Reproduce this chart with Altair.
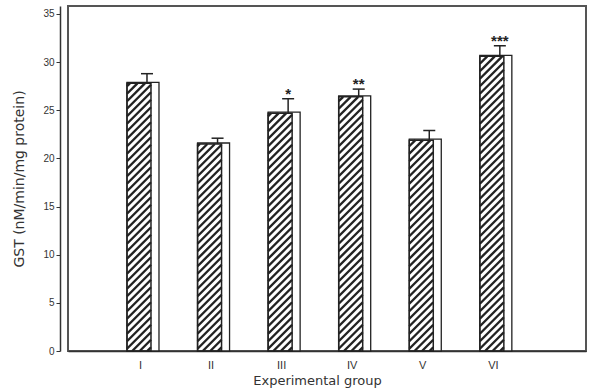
import altair as alt
import pandas as pd
import numpy as np

groups = ["I", "II", "III", "IV", "V", "VI"]
gst = [27.8, 21.5, 24.7, 26.4, 21.9, 30.6]
sem = [1.0, 0.6, 1.5, 0.8, 1.0, 1.1]
stars = ["", "", "*", "**", "", "***"]
y_ticks = [0, 5, 10, 15, 20, 25, 30, 35]

# layout / style
W, H = 518, 345
X_DOM = [-0.02, 7.32]
Y_DOM = [0, 35.83]
FRONT_L, FRONT_R, SIDE_R = -13, 11, 19   # px offsets of bar faces around the label position
HATCH_STEP = 7.5

pxx = W / (X_DOM[1] - X_DOM[0])
pxy = H / (Y_DOM[1] - Y_DOM[0])

idx = list(range(1, len(groups) + 1))
bars = pd.DataFrame({"g": idx, "name": groups, "v": gst, "e": sem,
                     "top": [a + b for a, b in zip(gst, sem)], "star": stars})

# hatch segments derived from bar values
rows = []
fw = FRONT_R - FRONT_L
for g, v in zip(idx, gst):
    hp = v * pxy
    for d in np.arange(-fw + HATCH_STEP / 2, hp, HATCH_STEP):
        u0 = max(0.0, -d)
        u1 = min(fw, hp - d)
        if u1 <= u0:
            continue
        rows.append({
            "x": g + (FRONT_L + u0) / pxx, "y": (u0 + d) / pxy,
            "x2": g + (FRONT_L + u1) / pxx, "y2": (u1 + d) / pxy,
        })
hatch = pd.DataFrame(rows)

xs = alt.Scale(domain=X_DOM, nice=False, zero=False)
ys = alt.Scale(domain=Y_DOM, nice=False, zero=False)

label_expr = "+datum.value==1?'I':+datum.value==2?'II':+datum.value==3?'III':+datum.value==4?'IV':+datum.value==5?'V':+datum.value==6?'VI':''"

x_axis = alt.Axis(values=idx, labelExpr=label_expr, title="Experimental group",
                  ticks=False, grid=False, labelFontSize=11, labelPadding=8,
                  labelColor="#333", titleColor="#333", titleFontSize=13,
                  titleFontWeight="normal", titleFont="DejaVu Sans",
                  titleX=249, titleY=33, titleBaseline="alphabetic",
                  domainColor="#333", domainWidth=1.5, labelFont="Liberation Sans")
y_axis = alt.Axis(values=y_ticks, title="GST (nM/min/mg protein)", grid=False,
                  offset=8, tickSize=4, tickColor="#333", labelFontSize=10,
                  labelPadding=2, labelColor="#333", titleColor="#333",
                  titleFontSize=14, titleFontWeight="normal", titleFont="DejaVu Sans",
                  titlePadding=16, domainColor="#333", domainWidth=1.5,
                  labelFont="Liberation Sans")

base = alt.Chart(bars)

side = base.mark_rect(fill="white", stroke="#222", strokeWidth=1.3,
                      xOffset=FRONT_L, x2Offset=SIDE_R, yOffset=-1).encode(
    x=alt.X("g:Q", scale=xs, axis=x_axis), x2="g:Q",
    y=alt.Y("v:Q", scale=ys, axis=y_axis), y2=alt.datum(0))

hatch_layer = alt.Chart(hatch).mark_rule(color="#222", strokeWidth=2.4).encode(
    x=alt.X("x:Q", scale=xs), x2="x2:Q", y=alt.Y("y:Q", scale=ys), y2="y2:Q")

front = base.mark_rect(fill="white", fillOpacity=0, stroke="#222", strokeWidth=1.5,
                       xOffset=FRONT_L, x2Offset=FRONT_R).encode(
    x=alt.X("g:Q", scale=xs), x2="g:Q",
    y=alt.Y("v:Q", scale=ys), y2=alt.datum(0))

err = base.mark_rule(color="#222", strokeWidth=1.5, xOffset=7).encode(
    x=alt.X("g:Q", scale=xs), y=alt.Y("v:Q", scale=ys), y2="top:Q")

cap = base.mark_rule(color="#222", strokeWidth=1.5, xOffset=1, x2Offset=13).encode(
    x=alt.X("g:Q", scale=xs), x2="g:Q", y=alt.Y("top:Q", scale=ys))

star = base.mark_text(fontSize=15, fontWeight="bold", color="#222", dx=7, dy=-5,
                      baseline="middle", font="Liberation Sans").encode(
    x=alt.X("g:Q", scale=xs), y=alt.Y("top:Q", scale=ys), text="star:N")

chart = alt.layer(side, hatch_layer, front, err, cap, star).properties(
    width=W, height=H,
    autosize=alt.AutoSizeParams(type="none"),
    padding={"left": 68, "top": 6, "right": 9, "bottom": 37},
).configure_view(stroke="#555", strokeWidth=2)

chart.save("out.html", embed_options={"renderer": "svg", "actions": False})
